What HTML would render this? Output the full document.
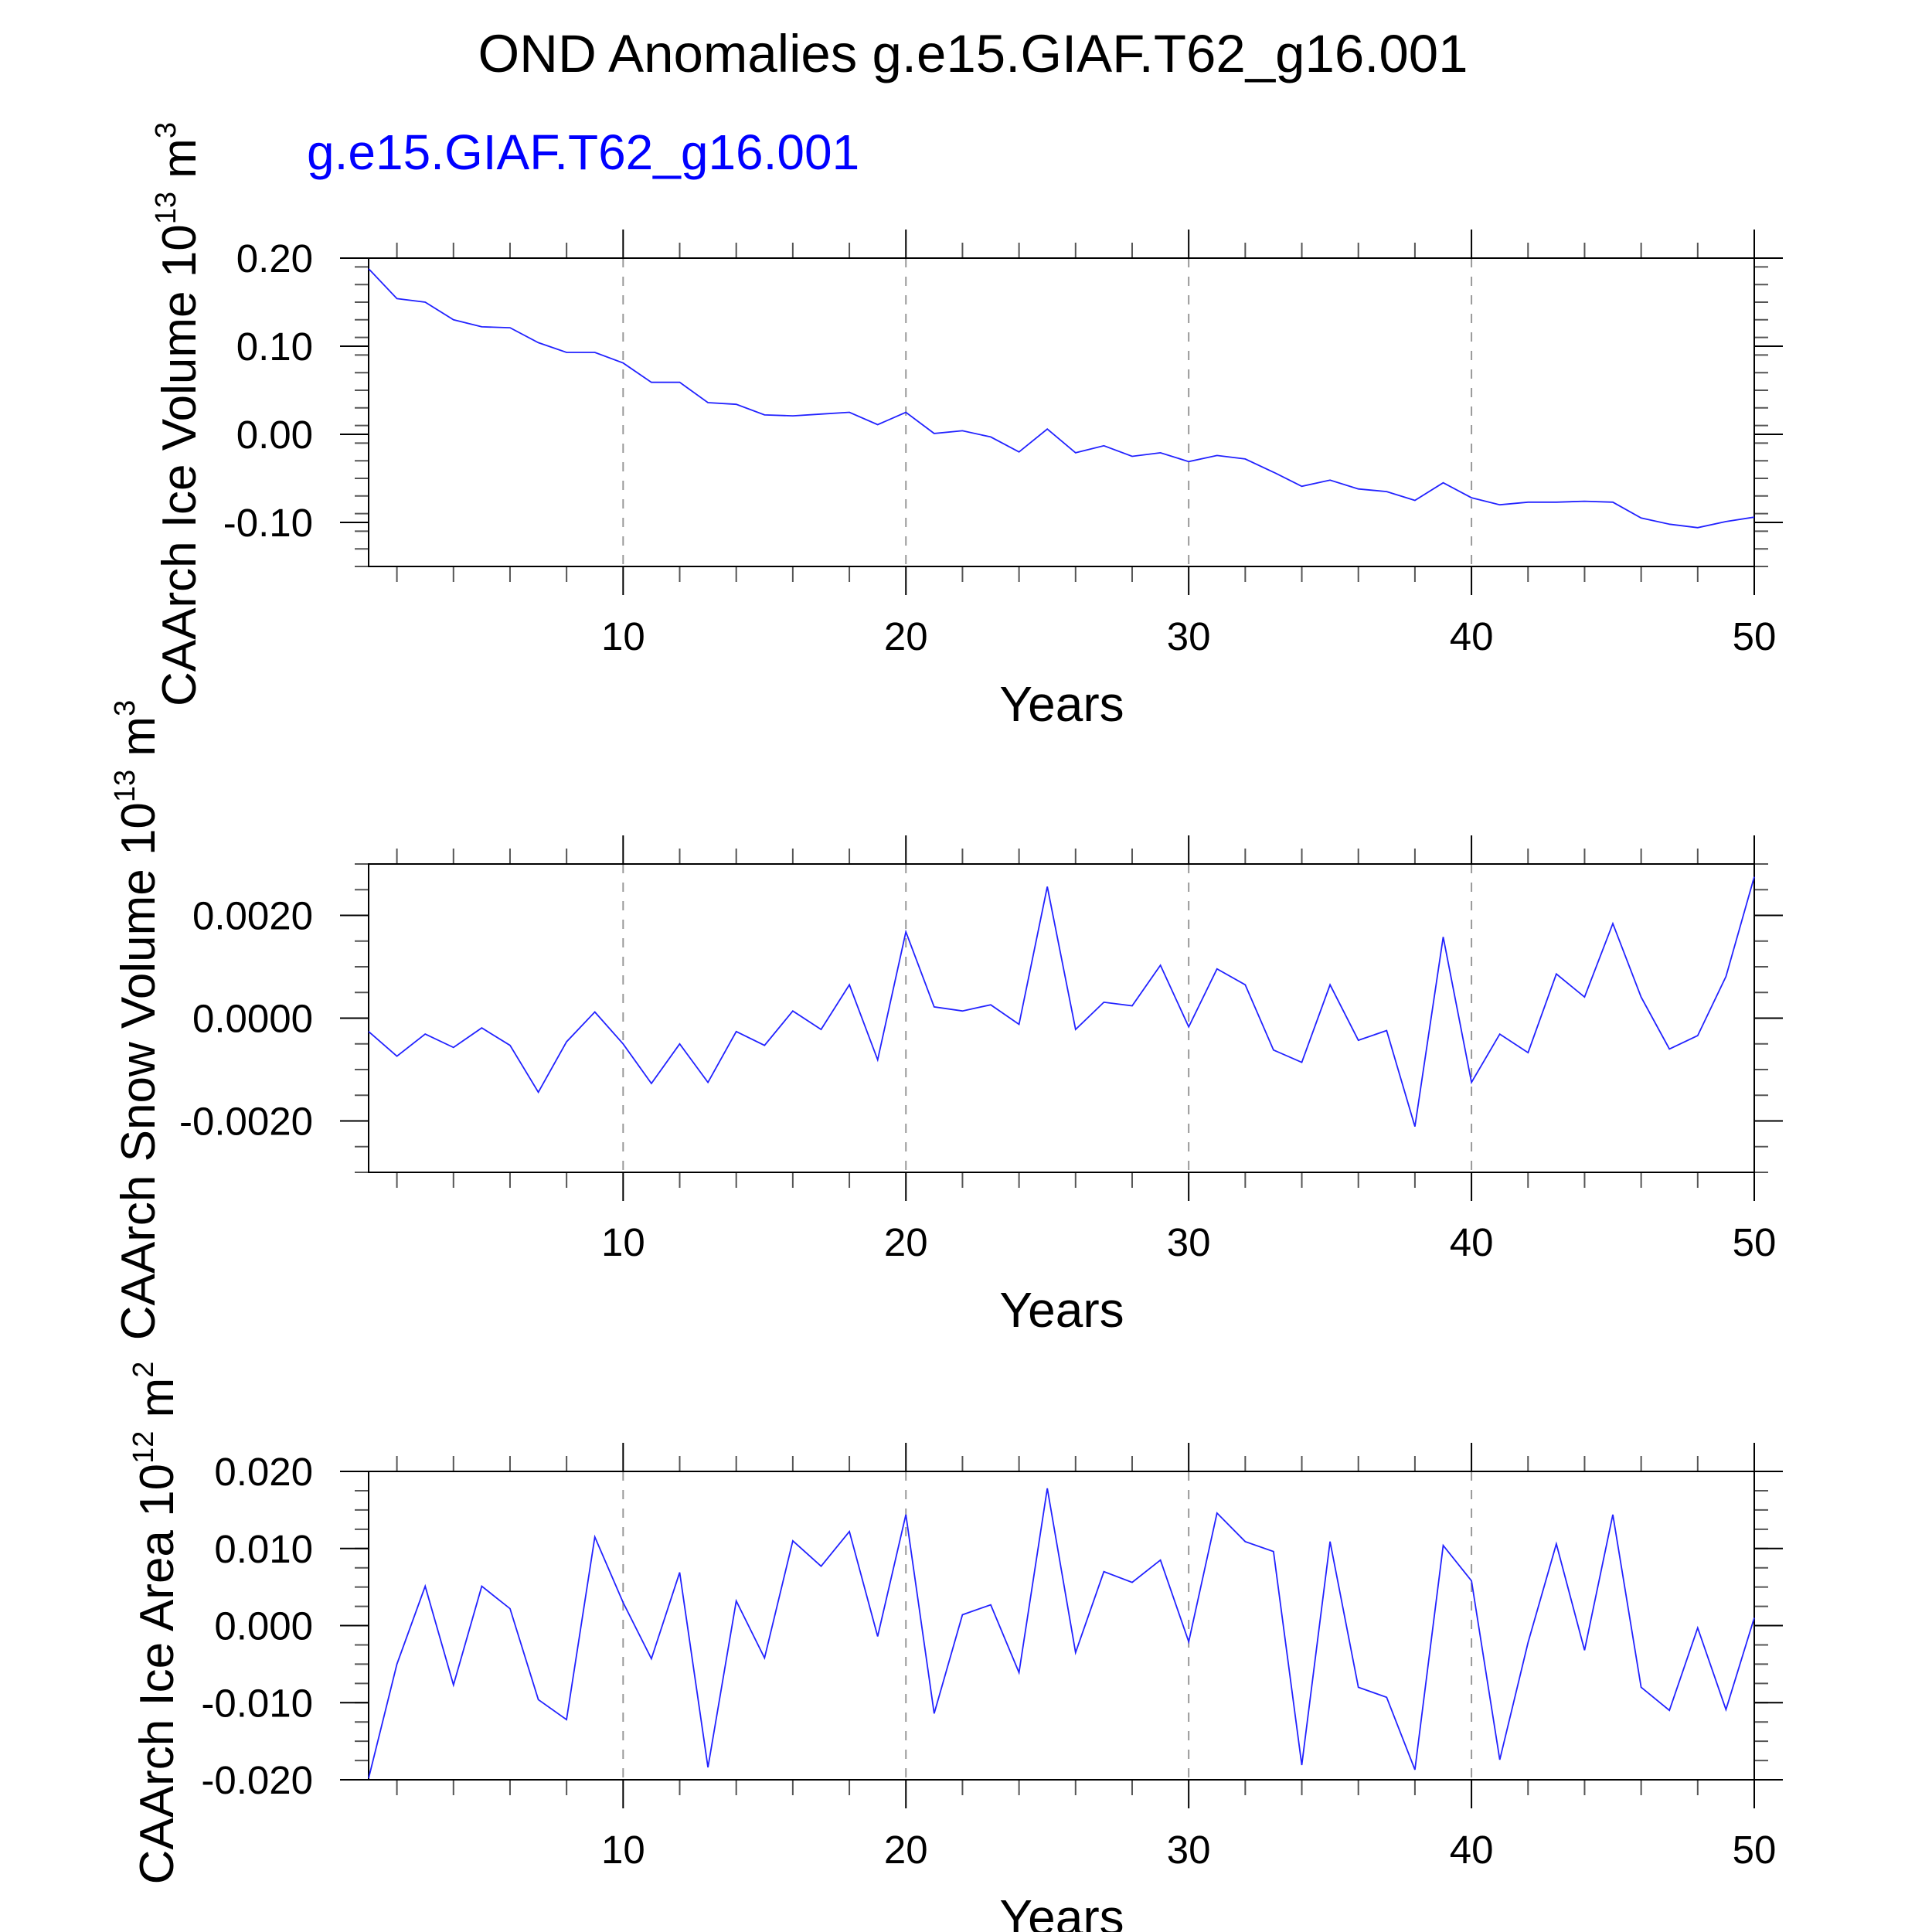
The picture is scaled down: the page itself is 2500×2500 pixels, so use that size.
<!DOCTYPE html>
<html><head><meta charset="utf-8"><style>
html,body{margin:0;padding:0;background:#fff;}
svg{display:block;font-family:"Liberation Sans",sans-serif;}
</style></head><body>
<svg id="chart" width="2500" height="2500" viewBox="0 0 2500 2500" xmlns="http://www.w3.org/2000/svg">
<text x="1259" y="93" font-size="69" text-anchor="middle">OND Anomalies g.e15.GIAF.T62_g16.001</text>
<text x="397" y="219" font-size="64" fill="#0000ff">g.e15.GIAF.T62_g16.001</text>
</svg>
<script>
const years = Array.from({length:50},(_,i)=>i+1);
const iceVolume = [0.188,0.154,0.150,0.130,0.122,0.121,0.104,0.093,0.093,0.081,0.059,0.059,0.036,0.034,0.022,0.021,0.023,0.025,0.011,0.025,0.001,0.004,-0.003,-0.020,0.006,-0.021,-0.013,-0.025,-0.021,-0.031,-0.024,-0.028,-0.043,-0.059,-0.052,-0.062,-0.065,-0.075,-0.055,-0.072,-0.080,-0.077,-0.077,-0.076,-0.077,-0.095,-0.102,-0.106,-0.099,-0.094];
const snowVolume = [-0.00026,-0.00074,-0.00031,-0.00057,-0.00019,-0.00053,-0.00144,-0.00046,0.00012,-0.0005,-0.00127,-0.0005,-0.00125,-0.00026,-0.00053,0.00014,-0.00022,0.00065,-0.00081,0.00168,0.00022,0.00014,0.00026,-0.00012,0.00256,-0.00022,0.00031,0.00024,0.00103,-0.00017,0.00096,0.00065,-0.00062,-0.00086,0.00065,-0.00043,-0.00024,-0.00211,0.00158,-0.00125,-0.00031,-0.00067,0.00086,0.00041,0.00184,0.00041,-0.0006,-0.00034,0.00081,0.00275];
const iceArea = [-0.0198,-0.005,0.0051,-0.0077,0.0051,0.0022,-0.0096,-0.0122,0.0115,0.003,-0.0043,0.0069,-0.0184,0.0032,-0.0042,0.011,0.0077,0.0122,-0.0014,0.0144,-0.0114,0.0014,0.0027,-0.0061,0.0178,-0.0035,0.007,0.0056,0.0085,-0.0021,0.0146,0.0109,0.0096,-0.0181,0.0109,-0.008,-0.0093,-0.0187,0.0104,0.0058,-0.0174,-0.0022,0.0106,-0.0032,0.0144,-0.008,-0.011,-0.0003,-0.0109,0.001];
const xTickLabels = ["10","20","30","40","50"];
const xTickValues = [10,20,30,40,50];
const yTicks1 = [0.20,0.10,0.00,-0.10];
const yTickLabels1 = ["0.20","0.10","0.00","-0.10"];
const yTicks2 = [0.002,0,-0.002];
const yTickLabels2 = ["0.0020","0.0000","-0.0020"];
const yTicks3 = [0.02,0.01,0,-0.01,-0.02];
const yTickLabels3 = ["0.020","0.010","0.000","-0.010","-0.020"];

const NS="http://www.w3.org/2000/svg";
const svg=document.getElementById('chart');
function mk(tag,attrs,parent){const e=document.createElementNS(NS,tag);for(const k in attrs)e.setAttribute(k,attrs[k]);(parent||svg).appendChild(e);return e;}

const L=477,R=2270;
function drawPanel(o){
  const g=mk('g',{});
  
  
  const T=o.top,B=o.top+399;
  const xs=v=>L+(v-1)/(49)*(R-L);
  const ys=v=>T+(o.ymax-v)/(o.ymax-o.ymin)*(B-T);
  xTickValues.slice(0,4).forEach(v=>{
    const ln=mk('line',{x1:xs(v),x2:xs(v),y1:T,y2:B,stroke:'#999','stroke-width':2,'stroke-dasharray':'12 12'},g);
    
    
  });
  for(let v=2;v<=50;v+=2){
    const major=v%10===0, len=major?37:20;
    mk('line',{x1:xs(v),x2:xs(v),y1:T,y2:T-len,stroke:major?'#000':'#555','stroke-width':2},g);
    mk('line',{x1:xs(v),x2:xs(v),y1:B,y2:B+len,stroke:major?'#000':'#555','stroke-width':2},g);
  }
  for(let v=o.ymin;v<=o.ymax+1e-12;v+=o.minor){
    const y=ys(v);
    mk('line',{x1:L,x2:L-18,y1:y,y2:y,stroke:'#555','stroke-width':2},g);
    mk('line',{x1:R,x2:R+18,y1:y,y2:y,stroke:'#555','stroke-width':2},g);
  }
  o.ticks.forEach((v,i)=>{
    const y=ys(v);
    mk('line',{x1:L,x2:L-37,y1:y,y2:y,stroke:'#000','stroke-width':2},g);
    mk('line',{x1:R,x2:R+37,y1:y,y2:y,stroke:'#000','stroke-width':2},g);
    const t=mk('text',{x:405,y:y+18,'font-size':51,'text-anchor':'end'},g);
    t.textContent=o.labels[i];
    
    
  });
  xTickValues.forEach((v,i)=>{
    const t=mk('text',{x:xs(v),y:B+108,'font-size':51,'text-anchor':'middle'},g);
    t.textContent=xTickLabels[i];
    
    
  });
  const frame=mk('rect',{x:L,y:T,width:R-L,height:B-T,fill:'none',stroke:'#000','stroke-width':2},g);
  
  
  const pts=o.data.map((v,i)=>xs(years[i]).toFixed(1)+','+ys(v).toFixed(1)).join(' ');
  const pl=mk('polyline',{points:pts,fill:'none',stroke:'#2222ff','stroke-width':1.8},g);
  
  
  const xt=mk('text',{x:1374,y:B+200,'font-size':64,'text-anchor':'middle'},g);
  xt.textContent='Years';
  
  
  const yt=mk('text',{transform:`translate(${o.tx},${o.ty}) rotate(-90)`,'font-size':62,'text-anchor':'middle'},g);
  
  
  yt.innerHTML=o.title+' 10<tspan dy="-26" font-size="38">'+o.exp+'</tspan><tspan dy="26"> m</tspan><tspan dy="-26" font-size="38">'+o.unit+'</tspan>';
}
drawPanel({name:'ice-volume-panel',top:334,ymin:-0.15,ymax:0.20,minor:0.02,ticks:yTicks1,labels:yTickLabels1,data:iceVolume,title:'CAArch Ice Volume',exp:'13',unit:'3',tx:253,ty:536});
drawPanel({name:'snow-volume-panel',top:1118,ymin:-0.003,ymax:0.003,minor:0.0005,ticks:yTicks2,labels:yTickLabels2,data:snowVolume,title:'CAArch Snow Volume',exp:'13',unit:'3',tx:200,ty:1320});
drawPanel({name:'ice-area-panel',top:1904,ymin:-0.02,ymax:0.02,minor:0.0025,ticks:yTicks3,labels:yTickLabels3,data:iceArea,title:'CAArch Ice Area',exp:'12',unit:'2',tx:224,ty:2100});
</script>
</body></html>
